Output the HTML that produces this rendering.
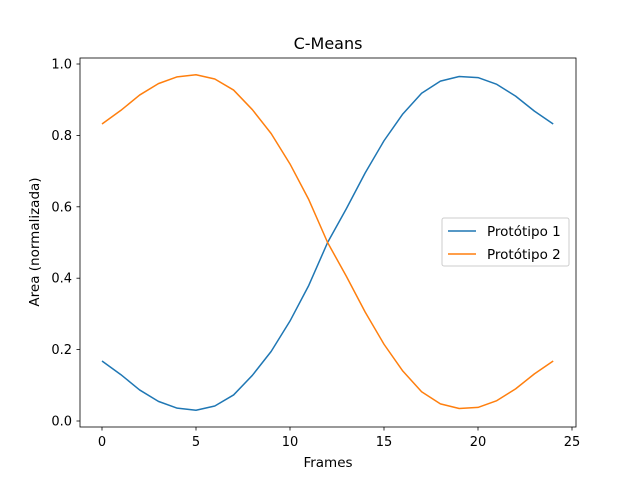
<!DOCTYPE html>
<html><head><meta charset="utf-8"><style>
html,body{margin:0;padding:0;background:#fff;}
svg{display:block;font-family:"DejaVu Sans","Liberation Sans",sans-serif;}
</style></head><body>
<svg id="chart" width="640" height="480">
<rect width="640" height="480" fill="#fff"/>
<text x="328" y="49" font-size="16" text-anchor="middle">C-Means</text>
<g id="plot"></g>
<rect x="80" y="58" width="496" height="369" fill="none" stroke="#000" stroke-width="0.8"/>
<text x="328" y="467" font-size="13.5" text-anchor="middle">Frames</text>
<text transform="translate(39,242) rotate(-90)" font-size="13.5" text-anchor="middle">Area (normalizada)</text>
<g>
<rect x="442" y="218" width="127" height="48" rx="2" fill="#fff" fill-opacity="0.8" stroke="#ccc" stroke-width="1"/>
<line x1="448" y1="231" x2="476" y2="231" stroke="#1f77b4" stroke-width="1.5"/>
<text x="487" y="236" font-size="13.5">Protótipo 1</text>
<line x1="448" y1="254" x2="476" y2="254" stroke="#ff7f0e" stroke-width="1.5"/>
<text x="487" y="259" font-size="13.5">Protótipo 2</text>
</g>
</svg>
<script>
const frames = [0,1,2,3,4,5,6,7,8,9,10,11,12,13,14,15,16,17,18,19,20,21,22,23,24];
const proto1 = [0.168,0.13,0.087,0.055,0.036,0.03,0.042,0.073,0.128,0.195,0.28,0.38,0.5,0.595,0.695,0.785,0.86,0.918,0.952,0.965,0.962,0.943,0.91,0.868,0.832];
const proto2 = [0.832,0.87,0.913,0.945,0.964,0.97,0.958,0.927,0.872,0.805,0.72,0.62,0.5,0.405,0.305,0.215,0.14,0.082,0.048,0.035,0.038,0.057,0.09,0.132,0.168];
const xTicks = [0,5,10,15,20,25];
const yTicks = [0.0,0.2,0.4,0.6,0.8,1.0];
const NS="http://www.w3.org/2000/svg";
function xs(v){return 102+v*18.8;}
function ys(v){return 421-v*357;}
const g=document.getElementById('plot');
function mk(t,a){const e=document.createElementNS(NS,t);for(const k in a)e.setAttribute(k,a[k]);g.appendChild(e);return e;}
xTicks.forEach(t=>{
  const l=mk('line',{x1:xs(t),x2:xs(t),y1:427,y2:430.5,stroke:'#000','stroke-width':0.8});
  
  
  const tx=mk('text',{x:xs(t),y:446,'font-size':13,'text-anchor':'middle'});
  tx.textContent=t;
  
  
});
yTicks.forEach(t=>{
  const l=mk('line',{x1:76.5,x2:80,y1:ys(t),y2:ys(t),stroke:'#000','stroke-width':0.8});
  
  
  const tx=mk('text',{x:72,y:ys(t)+4.5,'font-size':13,'text-anchor':'end'});
  tx.textContent=t.toFixed(1);
  
  
});
[[proto1,'#1f77b4','line-prototipo-1'],[proto2,'#ff7f0e','line-prototipo-2']].forEach(([d,c,n])=>{
  const p=mk('polyline',{points:d.map((v,i)=>xs(frames[i])+','+ys(v)).join(' '),fill:'none',stroke:c,'stroke-width':1.5,'stroke-linejoin':'round'});
  
  
});
</script>
</body></html>
